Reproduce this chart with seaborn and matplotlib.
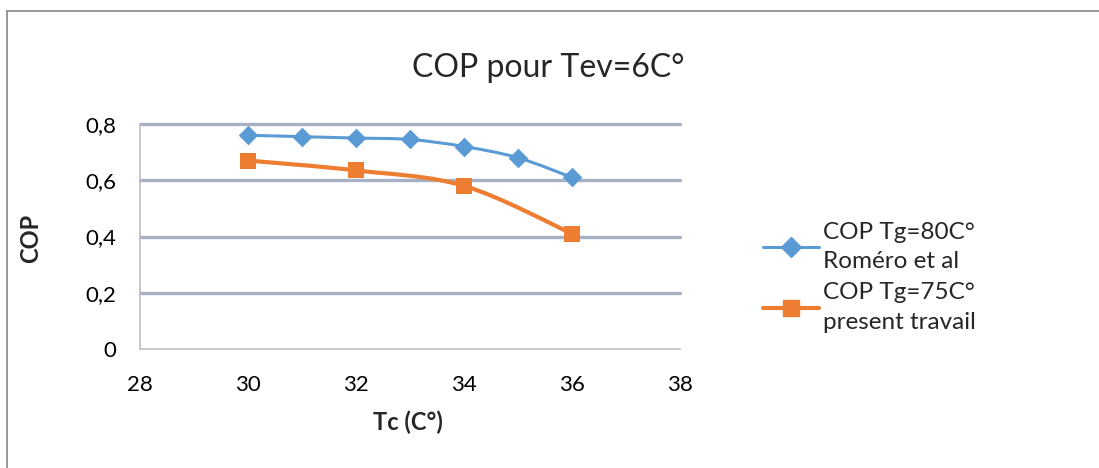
import numpy as np
import matplotlib
matplotlib.use("Agg")
import matplotlib.pyplot as plt
from matplotlib.path import Path
from matplotlib.patches import PathPatch
from matplotlib.lines import Line2D
from matplotlib.ticker import FuncFormatter
import pandas as pd
import seaborn as sns

# Data
tc_romero = [30, 31, 32, 33, 34, 35, 36]
cop_romero = [0.76, 0.755, 0.75, 0.745, 0.72, 0.68, 0.61]
tc_present = [30, 32, 34, 36]
cop_present = [0.67, 0.635, 0.58, 0.41]
labels = ["COP Tg=80C°\nRoméro et al", "COP Tg=75C°\npresent travail"]
x_ticks = [28, 30, 32, 34, 36, 38]
y_ticks = [0, 0.2, 0.4, 0.6, 0.8]

sns.set_theme(style="white")
plt.rcParams["font.family"] = ["Lato", "DejaVu Sans"]

BLUE = "#5B9BD5"
ORANGE = "#ED7D31"
GRID = "#A7B1C6"
W, H = 1099, 468

fig = plt.figure(figsize=(W / 100, H / 100), dpi=100)
ax = fig.add_axes([140 / W, 1 - 349 / H, 540 / W, 225 / H])

# Chart-area border (top and left edges)
bx, by = 6.5 / W, 1 - 11 / H
fig.add_artist(Line2D([bx, 1.0], [by, by], transform=fig.transFigure,
                      color="#8F8F8F", lw=1.3))
fig.add_artist(Line2D([bx, bx], [0.0, by], transform=fig.transFigure,
                      color="#8F8F8F", lw=1.3))


def smooth_path(xs, ys):
    """Bezier curve through the points, Catmull-Rom style tangents."""
    pts = np.column_stack([xs, ys]).astype(float)
    n = len(pts)
    verts = [pts[0]]
    codes = [Path.MOVETO]
    for i in range(n - 1):
        p0 = pts[i - 1] if i > 0 else pts[i]
        p1 = pts[i]
        p2 = pts[i + 1]
        p3 = pts[i + 2] if i + 2 < n else pts[i + 1]
        c1 = p1 + (p2 - p0) / 6.0
        c2 = p2 - (p3 - p1) / 6.0
        verts += [c1, c2, p2]
        codes += [Path.CURVE4] * 3
    return Path(verts, codes)


for xs, ys, col, lw in [(tc_romero, cop_romero, BLUE, 2.2),
                        (tc_present, cop_present, ORANGE, 3.0)]:
    ax.add_patch(PathPatch(smooth_path(xs, ys), facecolor="none",
                           edgecolor=col, lw=lw, zorder=3,
                           capstyle="round", joinstyle="round"))

df_r = pd.DataFrame({"tc": tc_romero, "cop": cop_romero})
df_p = pd.DataFrame({"tc": tc_present, "cop": cop_present})
sns.scatterplot(data=df_r, x="tc", y="cop", marker="D", s=100, color=BLUE,
                edgecolor=BLUE, linewidth=0, ax=ax, zorder=4)
sns.scatterplot(data=df_p, x="tc", y="cop", marker="s", s=135, color=ORANGE,
                edgecolor=ORANGE, linewidth=0, ax=ax, zorder=4)

ax.set_xlim(28, 38)
ax.set_ylim(0, 0.8)
ax.set_xticks(x_ticks)
ax.set_yticks(y_ticks)
fmt = FuncFormatter(lambda v, p: "0" if abs(v) < 1e-9 else f"{v:g}".replace(".", ","))
ax.yaxis.set_major_formatter(fmt)
ax.xaxis.set_major_formatter(FuncFormatter(lambda v, p: f"{v:g}"))
ax.tick_params(axis="both", length=0, labelsize=16, colors="black")
ax.tick_params(axis="y", pad=17)
ax.tick_params(axis="x", pad=19)

for yv in y_ticks[1:]:
    ax.axhline(yv, color=GRID, lw=2.4, zorder=1, clip_on=False)

for s in ["top", "right"]:
    ax.spines[s].set_visible(False)
for s in ["left", "bottom"]:
    ax.spines[s].set_color("#BFBFBF")
    ax.spines[s].set_linewidth(1.2)

ax.set_xlabel("Tc (C°)", fontsize=17, fontweight="bold")
ax.set_ylabel("COP", fontsize=17, fontweight="bold")
ax.xaxis.set_label_coords((408 - 140) / 540, (349 - 411) / 225)
ax.yaxis.set_label_coords((42 - 140) / 540, 0.49)
fig.text(548 / W, 1 - 68 / H, "COP pour Tev=6C°", fontsize=23,
         ha="center", va="center")

handles = [
    Line2D([], [], color=BLUE, lw=2.2, marker="D", markersize=10),
    Line2D([], [], color=ORANGE, lw=3.0, marker="s", markersize=11.5),
]
leg = fig.legend(handles, labels, loc="upper left",
                 bbox_to_anchor=(753 / W, 1 - 212 / H),
                 frameon=False, fontsize=17.5, handlelength=2.3,
                 handletextpad=0.2, labelspacing=0.42, borderaxespad=0)
for t in leg.get_texts():
    t.set_linespacing(1.5)

fig.savefig("out.png", dpi=100, facecolor="white")
